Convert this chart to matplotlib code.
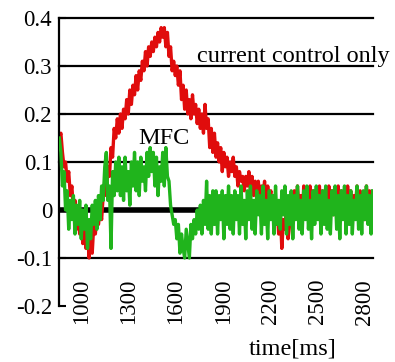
import matplotlib
matplotlib.use("Agg")
import matplotlib.pyplot as plt
import numpy as np

plt.rcParams['font.family'] = ['Liberation Serif', 'DejaVu Serif']
plt.rcParams['axes.unicode_minus'] = False

# sampled every 10 ms
time_ms = np.arange(855, 2856, 10)

current_only = [
    0.15, 0.16, 0.12, 0.09, 0.10, 0.06, 0.08, 0.03, 0.05, 0.00,
    0.02, -0.04, -0.01, -0.05, -0.02, -0.07, -0.03, -0.08, -0.05, -0.10,
    -0.06, -0.09, -0.03, -0.05, -0.01, -0.03, 0.00, -0.02, 0.03, 0.06,
    0.03, 0.09, 0.07, 0.13, 0.11, 0.17, 0.15, 0.19, 0.16, 0.20,
    0.17, 0.21, 0.19, 0.23, 0.20, 0.25, 0.22, 0.26, 0.24, 0.28,
    0.25, 0.29, 0.27, 0.31, 0.29, 0.33, 0.30, 0.34, 0.32, 0.35,
    0.33, 0.36, 0.34, 0.37, 0.35, 0.38, 0.36, 0.38, 0.34, 0.37,
    0.32, 0.34, 0.29, 0.31, 0.28, 0.30, 0.26, 0.29, 0.23, 0.26,
    0.21, 0.25, 0.20, 0.23, 0.19, 0.24, 0.20, 0.22, 0.18, 0.21,
    0.17, 0.20, 0.16, 0.22, 0.17, 0.19, 0.13, 0.17, 0.12, 0.16,
    0.11, 0.14, 0.10, 0.13, 0.08, 0.12, 0.09, 0.11, 0.07, 0.10,
    0.08, 0.11, 0.07, 0.09, 0.05, 0.08, 0.06, 0.07, 0.04, 0.07,
    0.05, 0.08, 0.04, 0.07, 0.03, 0.06, 0.04, 0.06, 0.02, 0.05,
    0.03, 0.06, 0.01, 0.05, 0.02, 0.04, -0.01, 0.03, -0.03, 0.01,
    -0.05, 0.00, -0.08, -0.02, -0.04, 0.01, -0.06, -0.03, 0.02, -0.02,
    0.04, -0.01, 0.05, 0.00, 0.03, -0.02, 0.05, 0.01, 0.04, -0.01,
    0.05, 0.00, 0.04, -0.02, 0.03, 0.01, 0.05, -0.01, 0.04, 0.00,
    0.03, -0.02, 0.05, 0.01, 0.04, -0.01, 0.03, 0.00, 0.05, -0.02,
    0.04, 0.01, 0.03, -0.01, 0.05, 0.00, 0.04, -0.02, 0.03, 0.01,
    0.05, -0.01, 0.04, 0.00, 0.03, -0.02, 0.05, 0.01, 0.04, -0.01,
    0.03,
]

mfc = [
    0.15, 0.12, 0.05, 0.08, 0.00, 0.04, -0.04, 0.02, -0.02, 0.03,
    -0.05, 0.01, -0.03, 0.02, -0.06, 0.00, -0.04, 0.01, -0.08, -0.02,
    -0.06, 0.01, -0.03, 0.02, -0.04, 0.03, -0.02, 0.05, 0.02, 0.09,
    0.12, 0.02, 0.05, -0.08, 0.08, 0.03, 0.10, 0.04, 0.11, 0.03,
    0.09, 0.02, 0.11, 0.04, 0.08, 0.01, 0.10, 0.05, 0.12, 0.04,
    0.10, 0.03, 0.11, 0.06, 0.09, 0.04, 0.12, 0.07, 0.13, 0.08,
    0.12, 0.05, 0.11, 0.03, 0.09, 0.06, 0.12, 0.05, 0.13, 0.07,
    0.06, 0.01, -0.01, -0.03, -0.02, -0.06, -0.03, -0.09, -0.05, -0.08,
    -0.10, -0.04, -0.07, -0.10, -0.03, -0.06, -0.02, -0.05, 0.00, -0.04,
    0.01, -0.05, 0.02, -0.03, 0.06, -0.04, 0.03, -0.05, 0.04, -0.03,
    0.04, -0.05, 0.03, -0.02, 0.04, -0.06, 0.03, -0.03, 0.05, -0.04,
    0.03, -0.05, 0.04, -0.02, 0.03, -0.05, 0.05, -0.03, 0.02, -0.06,
    0.04, -0.02, 0.05, -0.04, 0.02, -0.05, 0.04, -0.01, 0.03, -0.05,
    0.05, -0.03, 0.02, -0.06, 0.04, -0.02, 0.03, -0.05, 0.05, -0.03,
    0.02, -0.04, 0.04, -0.01, 0.05, -0.05, 0.03, -0.03, 0.04, -0.06,
    0.03, -0.02, 0.05, -0.04, 0.02, -0.05, 0.04, -0.02, 0.05, -0.04,
    0.02, -0.06, 0.04, -0.03, 0.05, -0.02, 0.03, -0.05, 0.04, -0.03,
    0.05, -0.04, 0.02, -0.05, 0.04, -0.01, 0.05, -0.04, 0.03, -0.06,
    0.04, -0.02, 0.05, -0.05, 0.03, -0.03, 0.04, -0.05, 0.02, -0.02,
    0.05, -0.04, 0.03, -0.05, 0.04, -0.02, 0.05, -0.03, 0.03, -0.05,
    0.04,
]

x_ticks = [1000, 1300, 1600, 1900, 2200, 2500, 2800]
y_ticks = [-0.2, -0.1, 0, 0.1, 0.2, 0.3, 0.4]
y_ticklabels = ['-0.2', '-0.1', '0', '0.1', '0.2', '0.3', '0.4']
grid_levels = [-0.1, 0.1, 0.2, 0.3, 0.4]

fig = plt.figure(figsize=(3.95, 3.62), dpi=100)
ax = fig.add_axes([59 / 395, 1 - 306 / 362, 314 / 395, 288 / 362])

for lev in grid_levels:
    ax.axhline(lev, color='black', lw=1.6, clip_on=False, zorder=1)
ax.axhline(0, color='black', lw=4.0, zorder=1)

ax.plot(time_ms, current_only, color='#e00c0c', lw=2.4, zorder=2)
ax.plot(time_ms, mfc, color='#20b41c', lw=2.4, zorder=3)

ax.text(1734, 0.308, 'current control only', fontsize=17.5, va='baseline', ha='left')
ax.text(1357, 0.1375, 'MFC', fontsize=17.5, va='baseline', ha='left')
ax.text(0.745, -0.15, 'time[ms]', fontsize=17.5, ha='center', va='center',
        transform=ax.transAxes)

ax.set_xlim(853, 2857)
ax.set_ylim(-0.2, 0.4)

ax.set_xticks(x_ticks)
ax.set_xticklabels([str(v) for v in x_ticks], rotation=90)
ax.set_yticks(y_ticks)
ax.set_yticklabels(y_ticklabels)

ax.tick_params(axis='x', length=0, pad=-19.5, labelsize=16.5)
ax.tick_params(axis='y', direction='in', length=5, width=1.5, pad=5, labelsize=16.5)

for side in ['top', 'right', 'bottom']:
    ax.spines[side].set_visible(False)
ax.spines['left'].set_linewidth(1.6)

fig.savefig('out.png', dpi=100)
